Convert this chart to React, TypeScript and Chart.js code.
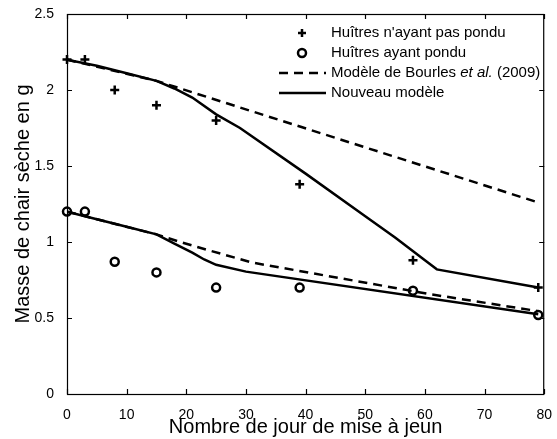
import React, { useEffect, useRef } from "react";
import { Chart, registerables } from "chart.js";

Chart.register(...registerables);

// Observed data (days of fasting, dry flesh mass in g)
const obsDays = [0, 3, 8, 15, 25, 39, 58, 79];
const nonSpawned = [2.2, 2.2, 2.0, 1.9, 1.8, 1.38, 0.88, 0.7];
const spawned = [1.2, 1.2, 0.87, 0.8, 0.7, 0.7, 0.68, 0.52];

// Bourles et al. (2009) model
const bourlesUpperDays = [0, 15, 79];
const bourlesUpper = [2.2, 2.06, 1.26];
const bourlesLowerDays = [0, 15, 19, 22, 31, 61, 79];
const bourlesLower = [1.2, 1.05, 1.0, 0.965, 0.865, 0.656, 0.545];

// New model
const newUpperDays = [0, 5, 10, 15, 18, 21, 25, 29, 40, 50, 55, 60, 62, 79];
const newUpper = [2.2, 2.16, 2.11, 2.06, 2.01, 1.95, 1.84, 1.75, 1.45, 1.17, 1.03, 0.88, 0.82, 0.7];
const newLowerDays = [0, 5, 10, 15, 18, 21, 23, 25, 30, 79];
const newLower = [1.2, 1.15, 1.1, 1.05, 0.99, 0.93, 0.885, 0.85, 0.805, 0.525];

const xTicks = [0, 10, 20, 30, 40, 50, 60, 70, 80];
const yTicks = [0, 0.5, 1, 1.5, 2, 2.5];

const legendLabels = [
  "Huîtres n'ayant pas pondu",
  "Huîtres ayant pondu",
  "Modèle de Bourles ",
  "Nouveau modèle",
];

const FONT = "'Liberation Sans', Arial, Helvetica, sans-serif";
const LEG_SIZE = 15;

const zip = (xs: number[], ys: number[]) => xs.map((x, i) => ({ x, y: ys[i] }));

const boxPlugin = {
  id: "boxPlugin",
  afterDraw(chart: any) {
    const { ctx, chartArea } = chart;
    const { left, right, top, bottom } = chartArea;
    const xs = chart.scales.x;
    const ys = chart.scales.y;
    ctx.save();
    ctx.strokeStyle = "#000";
    ctx.lineWidth = 1.2;
    ctx.strokeRect(left + 0.5, top + 0.5, right - left - 1, bottom - top);
    const tl = 5;
    ctx.beginPath();
    xTicks.forEach((v) => {
      const px = Math.round(xs.getPixelForValue(v)) + 0.5;
      ctx.moveTo(px, bottom);
      ctx.lineTo(px, bottom - tl);
      ctx.moveTo(px, top);
      ctx.lineTo(px, top + tl);
    });
    yTicks.forEach((v) => {
      const py = Math.round(ys.getPixelForValue(v)) + 0.5;
      ctx.moveTo(left, py);
      ctx.lineTo(left + tl, py);
      ctx.moveTo(right, py);
      ctx.lineTo(right - tl, py);
    });
    ctx.stroke();
    ctx.restore();
  },
  afterDatasetsDraw(chart: any) {
    const { ctx } = chart;
    ctx.save();
    const symX1 = 279;
    const symX2 = 326;
    const symC = 302;
    const textX = 331;
    const rows = [33, 53, 73, 93];
    ctx.fillStyle = "#000";
    ctx.strokeStyle = "#000";
    ctx.textBaseline = "middle";
    ctx.textAlign = "left";
    ctx.font = `${LEG_SIZE}px ${FONT}`;
    // row 0: plus
    ctx.lineWidth = 2.5;
    ctx.beginPath();
    ctx.moveTo(symC - 4, rows[0]);
    ctx.lineTo(symC + 4, rows[0]);
    ctx.moveTo(symC, rows[0] - 4);
    ctx.lineTo(symC, rows[0] + 4);
    ctx.stroke();
    ctx.fillText(legendLabels[0], textX, rows[0]);
    // row 1: circle
    ctx.beginPath();
    ctx.arc(symC, rows[1], 4, 0, Math.PI * 2);
    ctx.stroke();
    ctx.fillText(legendLabels[1], textX, rows[1]);
    // row 2: dashed
    ctx.setLineDash([9, 6]);
    ctx.beginPath();
    ctx.moveTo(symX1, rows[2]);
    ctx.lineTo(symX2, rows[2]);
    ctx.stroke();
    ctx.setLineDash([]);
    let x = textX;
    ctx.fillText(legendLabels[2], x, rows[2]);
    x += ctx.measureText(legendLabels[2]).width;
    ctx.font = `italic ${LEG_SIZE}px ${FONT}`;
    ctx.fillText("et al.", x, rows[2]);
    x += ctx.measureText("et al.").width;
    ctx.font = `${LEG_SIZE}px ${FONT}`;
    ctx.fillText(" (2009)", x, rows[2]);
    // row 3: solid
    ctx.beginPath();
    ctx.moveTo(symX1, rows[3]);
    ctx.lineTo(symX2, rows[3]);
    ctx.stroke();
    ctx.fillText(legendLabels[3], textX, rows[3]);
    ctx.restore();
  },
};

export default function App() {
  const ref = useRef<HTMLCanvasElement>(null);
  useEffect(() => {
    if (!ref.current) return;
    const lineBase = {
      showLine: true,
      pointRadius: 0,
      borderColor: "#000",
      borderWidth: 2.5,
      tension: 0,
      fill: false,
    };
    const chart = new Chart(ref.current, {
      type: "scatter",
      data: {
        datasets: [
          { ...lineBase, label: "Bourles upper", data: zip(bourlesUpperDays, bourlesUpper), borderDash: [9, 6] },
          { ...lineBase, label: "Bourles lower", data: zip(bourlesLowerDays, bourlesLower), borderDash: [9, 6] },
          { ...lineBase, label: "New upper", data: zip(newUpperDays, newUpper) },
          { ...lineBase, label: "New lower", data: zip(newLowerDays, newLower) },
          {
            label: "Non spawned",
            data: zip(obsDays, nonSpawned),
            pointStyle: "cross",
            pointRadius: 4.5,
            borderWidth: 2.5,
            borderColor: "#000",
            backgroundColor: "#000",
            showLine: false,
            clip: false,
          },
          {
            label: "Spawned",
            data: zip(obsDays, spawned),
            pointStyle: "circle",
            pointRadius: 4,
            borderWidth: 2.5,
            borderColor: "#000",
            backgroundColor: "rgba(0,0,0,0)",
            showLine: false,
            clip: false,
          },
        ],
      },
      options: {
        responsive: false,
        animation: false,
        layout: { padding: { top: 14, right: 8, left: 0, bottom: 0 } },
        plugins: { legend: { display: false }, tooltip: { enabled: false } },
        scales: {
          x: {
            type: "linear",
            min: 0,
            max: 80,
            grid: { display: false },
            border: { display: false },
            afterFit: (s: any) => {
              s.height = 45;
            },
            afterBuildTicks: (s: any) => {
              s.ticks = xTicks.map((v) => ({ value: v }));
            },
            ticks: {
              color: "#000",
              padding: 5,
              maxRotation: 0,
              font: { family: FONT, size: 14 },
              callback: (v: any) => String(v),
            },
            title: {
              display: true,
              text: "Nombre de jour de mise à jeun",
              color: "#000",
              font: { family: FONT, size: 20 },
              padding: { top: 0, bottom: 0 },
            },
          },
          y: {
            type: "linear",
            min: 0,
            max: 2.5,
            grid: { display: false },
            border: { display: false },
            afterFit: (s: any) => {
              s.width = 67;
            },
            afterBuildTicks: (s: any) => {
              s.ticks = yTicks.map((v) => ({ value: v }));
            },
            ticks: {
              color: "#000",
              padding: 5,
              font: { family: FONT, size: 14 },
              callback: (v: any) => String(v),
            },
            title: {
              display: true,
              text: "Masse de chair sèche en g",
              color: "#000",
              font: { family: FONT, size: 20 },
              padding: { top: 11, bottom: 0 },
            },
          },
        },
      },
      plugins: [boxPlugin],
    } as any);
    return () => chart.destroy();
  }, []);
  return (
    <div style={{ position: "absolute", left: 0, top: 0, width: 557, height: 439, background: "#fff" }}>
      <canvas ref={ref} width={557} height={439} />
    </div>
  );
}
